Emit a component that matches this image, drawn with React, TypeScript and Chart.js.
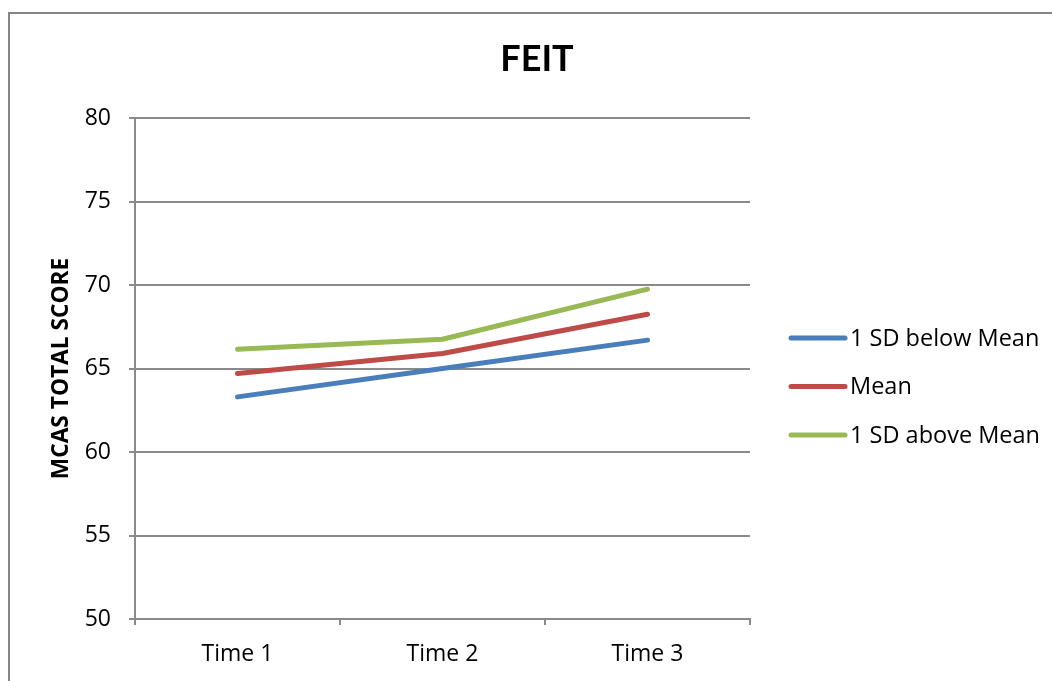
import { useEffect, useRef } from "react";
import { Chart, registerables } from "chart.js";

Chart.register(...registerables);

const TITLE = "FEIT";
const Y_TITLE = "MCAS TOTAL SCORE";
const categories = ["Time 1", "Time 2", "Time 3"];
const seriesNames = ["1 SD below Mean", "Mean", "1 SD above Mean"];
const belowMean = [63.3, 65.0, 66.7];
const meanValues = [64.7, 65.9, 68.25];
const aboveMean = [66.15, 66.75, 69.75];
const seriesColors = ["#4A7EBB", "#BE4B48", "#98B954"];
const Y_MIN = 50;
const Y_MAX = 80;
const Y_STEP = 5;

const GRID = "#8a8a8a";
const FONT = "'Open Sans', sans-serif";

const overlayPlugin = {
  id: "overlay",
  afterDraw(chart: any) {
    const { ctx, chartArea } = chart;
    ctx.save();
    ctx.fillStyle = "#000";
    ctx.font = `bold 36px Lato, sans-serif`;
    ctx.textAlign = "center";
    ctx.textBaseline = "middle";
    ctx.fillText(TITLE, chart.width / 2, 45);

    const x0 = chartArea.right + 41;
    const len = 54;
    const gap = 48.5;
    const yc = (chartArea.top + chartArea.bottom) / 2 + 18;
    ctx.font = `23.5px ${FONT}`;
    ctx.textAlign = "left";
    chart.data.datasets.forEach((ds: any, i: number) => {
      const y = yc + (i - 1) * gap;
      ctx.strokeStyle = ds.borderColor;
      ctx.lineWidth = 5;
      ctx.lineCap = "round";
      ctx.beginPath();
      ctx.moveTo(x0, y);
      ctx.lineTo(x0 + len, y);
      ctx.stroke();
      ctx.fillStyle = "#000";
      ctx.fillText(ds.label, x0 + len + 5, y + 1);
    });
    ctx.restore();
  },
};

export default function App() {
  const ref = useRef<HTMLCanvasElement | null>(null);

  useEffect(() => {
    if (!ref.current) return;
    const series = [belowMean, meanValues, aboveMean];
    const chart = new Chart(ref.current, {
      type: "line",
      data: {
        labels: categories,
        datasets: series.map((data, i) => ({
          label: seriesNames[i],
          data,
          borderColor: seriesColors[i],
          backgroundColor: seriesColors[i],
          borderWidth: 5,
          borderCapStyle: "round",
          borderJoinStyle: "round",
          pointRadius: 0,
          tension: 0,
        })),
      },
      options: {
        responsive: false,
        animation: false,
        devicePixelRatio: 1,
        layout: { padding: { left: 0, top: 104, right: 314, bottom: 0 } },
        plugins: {
          legend: { display: false },
          title: { display: false },
          tooltip: { enabled: false },
        },
        scales: {
          x: {
            offset: true,
            grid: {
              offset: true,
              drawOnChartArea: false,
              drawTicks: true,
              tickLength: 6,
              color: GRID,
              lineWidth: 2,
            },
            border: { display: true, color: GRID, width: 2 },
            ticks: {
              color: "#000",
              font: { family: FONT, size: 23 },
              padding: 16,
              maxRotation: 0,
            },
            afterFit: (s: any) => {
              s.height = 62;
            },
          },
          y: {
            min: Y_MIN,
            max: Y_MAX,
            ticks: {
              stepSize: Y_STEP,
              color: "#000",
              font: { family: FONT, size: 23 },
              padding: 18,
            },
            grid: {
              color: GRID,
              lineWidth: 2,
              tickLength: 6,
              drawTicks: true,
            },
            border: { display: true, color: GRID, width: 2 },
            title: {
              display: true,
              text: Y_TITLE,
              color: "#000",
              font: { family: FONT, size: 22.7, weight: "bold" },
              padding: { top: 38, bottom: 0 },
            },
            afterFit: (s: any) => {
              s.width = 125;
            },
          },
        },
      },
      plugins: [overlayPlugin],
    });
    return () => chart.destroy();
  }, []);

  return (
    <div style={{ position: "fixed", left: 0, top: 0, width: 1052, height: 681, overflow: "hidden", background: "#fff" }}>
      <div
        style={{
          position: "absolute",
          left: 8,
          top: 12,
          width: 1054,
          height: 680,
          border: "2px solid #868686",
          background: "#fff",
        }}
      >
        <canvas ref={ref} width={1054} height={667} style={{ display: "block" }} />
      </div>
    </div>
  );
}
